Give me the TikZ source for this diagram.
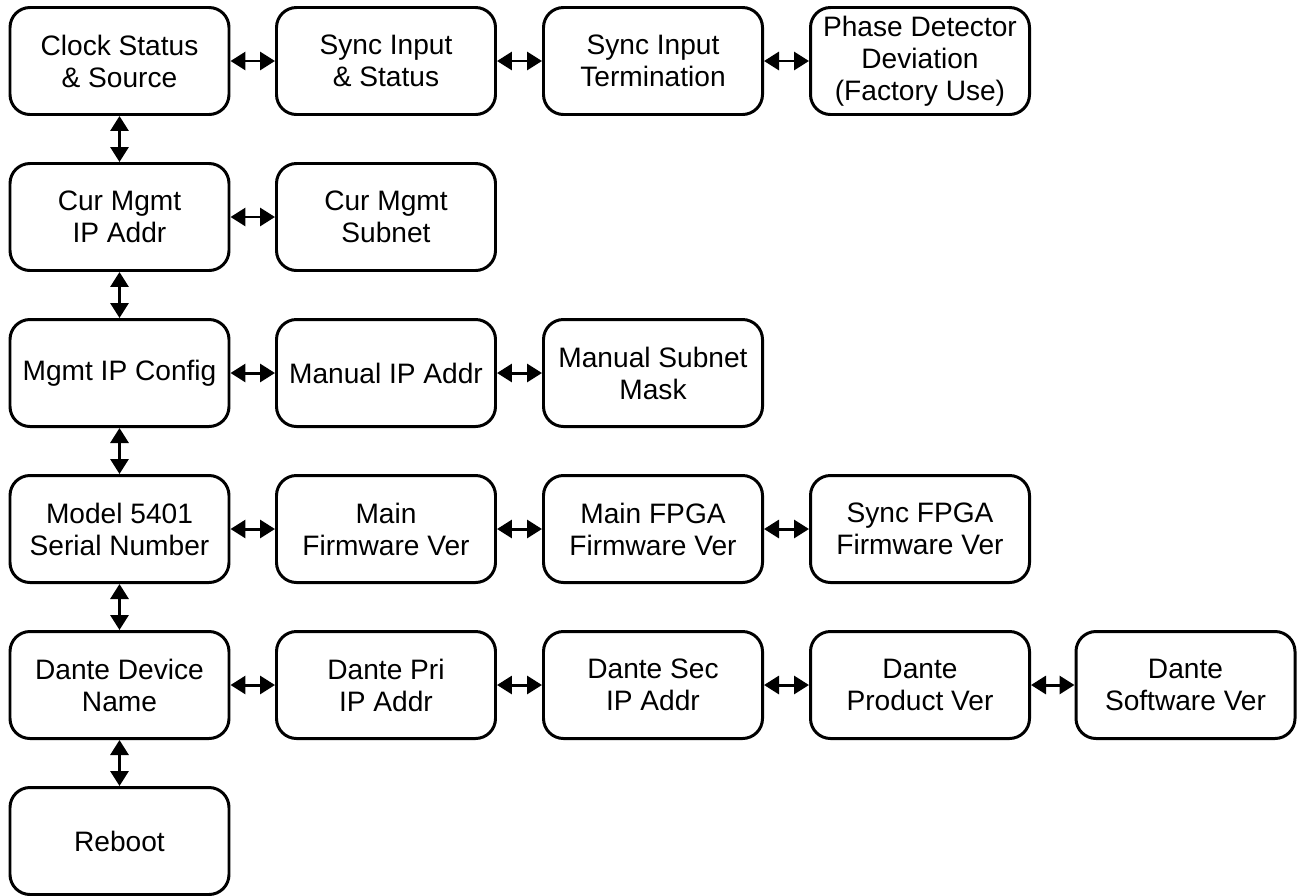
\documentclass[tikz,border=0pt]{standalone}
\usepackage{fontspec}
\setmainfont{Liberation Sans}
\usetikzlibrary{arrows.meta}

\begin{document}
\begin{tikzpicture}[menu/.style={draw,rounded corners=0.4cm,line width=1.7pt,minimum width=4.38cm,minimum height=2.14cm,inner sep=0pt,align=center,font=\fontsize{16}{18.2}\selectfont},
  nav/.style={{Triangle[length=0.3cm,width=0.36cm]}-{Triangle[length=0.3cm,width=0.36cm]},line width=1.7pt}]
  \useasboundingbox (0,0) rectangle (25.94,-17.92);
  % top row
  \path (2.39,-1.22) node[menu] (clk) {Clock Status\\\& Source}
  (7.72,-1.22) node[menu] (syncin) {Sync Input\\\& Status}
  (13.06,-1.22) node[menu] (syncterm) {Sync Input\\Termination}
  (18.40,-1.22) node[menu] (phdet) {Phase Detector\\Deviation\\(Factory Use)};
  % management ip
  \path (2.39,-4.34) node[menu] (curip) {Cur Mgmt\\IP Addr}
  (7.72,-4.34) node[menu] (cursub) {Cur Mgmt\\Subnet};
  \path (2.39,-7.46) node[menu] (ipcfg) {Mgmt IP Config}
  (7.72,-7.46) node[menu] (manip) {Manual IP Addr}
  (13.06,-7.46) node[menu] (mansub) {Manual Subnet\\Mask};
  % versions
  \path (2.39,-10.58) node[menu] (model) {Model 5401\\Serial Number}
  (7.72,-10.58) node[menu] (mainfw) {Main\\Firmware Ver}
  (13.06,-10.58) node[menu] (mainfpga) {Main FPGA\\Firmware Ver}
  (18.40,-10.58) node[menu] (syncfpga) {Sync FPGA\\Firmware Ver};
  % dante
  \path (2.39,-13.70) node[menu] (dname) {Dante Device\\Name}
  (7.72,-13.70) node[menu] (dpri) {Dante Pri\\IP Addr}
  (13.06,-13.70) node[menu] (dsec) {Dante Sec\\IP Addr}
  (18.40,-13.70) node[menu] (dprod) {Dante\\Product Ver}
  (23.71,-13.70) node[menu] (dsoft) {Dante\\Software Ver};
  \path (2.39,-16.82) node[menu] (reboot) {Reboot};
  \draw[nav] (clk) -- (syncin);
  \draw[nav] (syncin) -- (syncterm);
  \draw[nav] (syncterm) -- (phdet);
  \draw[nav] (curip) -- (cursub);
  \draw[nav] (ipcfg) -- (manip);
  \draw[nav] (manip) -- (mansub);
  \draw[nav] (model) -- (mainfw);
  \draw[nav] (mainfw) -- (mainfpga);
  \draw[nav] (mainfpga) -- (syncfpga);
  \draw[nav] (dname) -- (dpri);
  \draw[nav] (dpri) -- (dsec);
  \draw[nav] (dsec) -- (dprod);
  \draw[nav] (dprod) -- (dsoft);
  \draw[nav] (clk) -- (curip);
  \draw[nav] (curip) -- (ipcfg);
  \draw[nav] (ipcfg) -- (model);
  \draw[nav] (model) -- (dname);
  \draw[nav] (dname) -- (reboot);
\end{tikzpicture}
\end{document}
